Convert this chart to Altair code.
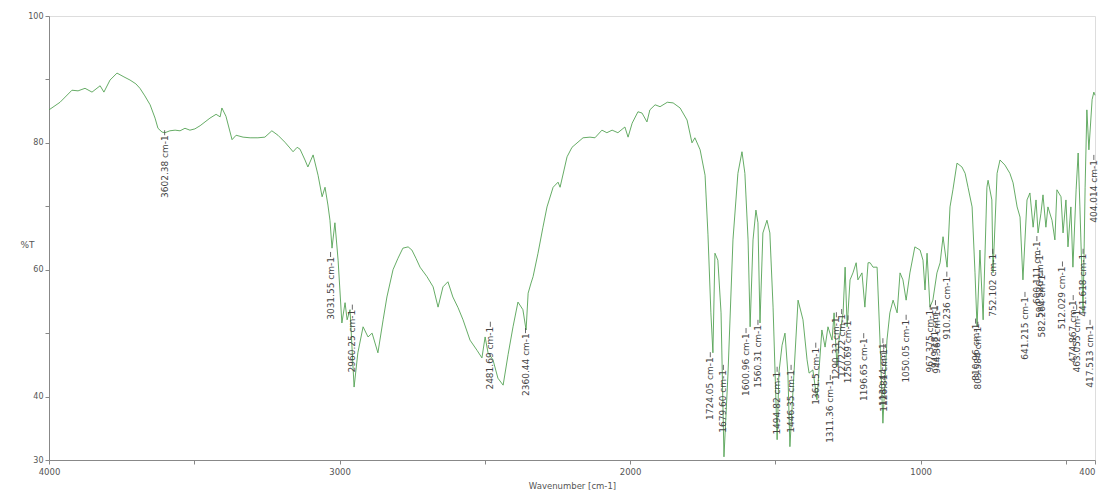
import altair as alt
import pandas as pd

# ---- spectrum (wavenumber cm-1, %T) ----
wavenumber = [4000, 3962, 3921, 3900, 3876, 3852, 3824, 3811, 3790, 3766, 3742, 3721, 3701, 3687, 3670, 3652,
              3635, 3625, 3611, 3601, 3584, 3566, 3549, 3532, 3515, 3498, 3480, 3463, 3446, 3425, 3411, 3405,
              3391, 3370, 3356, 3332, 3308, 3281, 3257, 3233, 3212, 3188, 3171, 3160, 3146, 3136, 3119, 3109,
              3091, 3074, 3060, 3050, 3040, 3033, 3026, 3016, 3005, 2992, 2981, 2974, 2964, 2950, 2937, 2919,
              2902, 2888, 2868, 2850, 2837, 2816, 2799, 2782, 2764, 2751, 2737, 2723, 2699, 2678, 2661, 2644,
              2627, 2610, 2592, 2575, 2551, 2527, 2510, 2499, 2489, 2472, 2455, 2437, 2420, 2403, 2386, 2369,
              2358, 2351, 2341, 2334, 2317, 2300, 2286, 2265, 2248, 2241, 2217, 2200, 2162, 2138, 2121, 2097,
              2080, 2062, 2042, 2018, 2007, 1993, 1973, 1959, 1942, 1932, 1914, 1897, 1872, 1852, 1828, 1804,
              1787, 1777, 1759, 1742, 1732, 1722, 1715, 1708, 1698, 1687, 1680, 1677, 1663, 1646, 1629, 1615,
              1605, 1594, 1587, 1577, 1567, 1560, 1553, 1543, 1529, 1519, 1508, 1494, 1488, 1477, 1467, 1457,
              1450, 1436, 1422, 1405, 1391, 1384, 1371, 1357, 1340, 1329, 1319, 1305, 1298, 1288, 1281, 1267,
              1260, 1253, 1243, 1233, 1222, 1216, 1202, 1192, 1181, 1174, 1164, 1150, 1140, 1130, 1116, 1106,
              1095, 1081, 1071, 1061, 1050, 1037, 1020, 1002, 992, 985, 978, 968, 958, 944, 933, 923,
              909, 899, 889, 875, 858, 847, 837, 823, 813, 806, 796, 785, 772, 768, 755, 751,
              737, 727, 710, 693, 682, 668, 658, 648, 634, 624, 613, 603, 596, 586, 579, 569,
              562, 548, 538, 531, 517, 510, 500, 493, 483, 476, 465, 458, 452, 441, 434, 428,
              421, 410, 404, 400]
transmittance = [85.2, 86.4, 88.3, 88.2, 88.6, 88.0, 89.0, 88.0, 89.9, 91.0, 90.4, 89.9, 89.3, 88.6, 87.4, 86.0,
                 83.9, 82.3, 81.7, 81.6, 81.9, 82.0, 81.9, 82.3, 82.0, 82.2, 82.7, 83.3, 83.9, 84.5, 84.1, 85.5,
                 84.2, 80.5, 81.2, 80.9, 80.8, 80.8, 80.9, 81.9, 81.2, 80.1, 79.2, 78.6, 79.3, 79.0, 77.3, 76.2,
                 78.1, 74.9, 71.5, 73.0, 70.2, 67.8, 63.4, 67.4, 61.5, 51.6, 54.8, 52.1, 53.7, 41.5, 46.9, 51.0,
                 49.4, 50.0, 46.9, 52.1, 55.7, 60.0, 61.8, 63.4, 63.6, 63.1, 61.8, 60.4, 58.9, 57.3, 54.1, 57.3,
                 58.1, 55.7, 54.0, 52.1, 48.9, 47.3, 46.1, 49.4, 46.9, 45.8, 42.9, 41.8, 46.6, 51.0, 54.9, 53.7,
                 50.5, 56.3, 57.9, 58.9, 62.6, 66.7, 69.9, 73.0, 73.8, 73.0, 77.8, 79.3, 80.8, 80.9, 80.8, 82.0,
                 81.6, 82.0, 81.6, 82.5, 80.9, 83.1, 84.9, 84.7, 83.3, 85.2, 86.0, 85.7, 86.4, 86.3, 85.5, 83.6,
                 80.0, 80.8, 78.9, 74.9, 65.5, 53.2, 46.9, 62.6, 61.5, 53.2, 37.4, 30.5, 43.7, 64.7, 75.2, 78.6,
                 75.2, 64.7, 51.0, 64.7, 69.4, 67.4, 51.6, 65.8, 67.8, 65.8, 54.1, 33.2, 43.7, 48.1, 50.0, 43.7,
                 32.1, 43.7, 55.2, 52.1, 45.8, 43.7, 44.2, 39.5, 50.5, 47.8, 51.0, 48.9, 53.2, 44.7, 48.9, 53.2,
                 60.4, 51.0, 58.4, 59.5, 61.1, 58.4, 59.5, 54.1, 61.1, 61.1, 60.4, 60.4, 48.9, 35.8, 48.9, 53.2,
                 55.2, 53.2, 59.5, 58.4, 55.2, 59.5, 63.6, 63.1, 61.5, 56.8, 62.6, 54.1, 55.2, 59.5, 61.1, 65.2,
                 60.4, 69.9, 72.6, 76.8, 76.2, 75.2, 73.0, 69.9, 59.5, 51.0, 63.1, 52.1, 73.0, 74.1, 71.0, 59.5,
                 75.2, 77.3, 76.5, 75.2, 73.7, 69.9, 68.3, 58.4, 71.0, 72.1, 66.7, 71.0, 65.8, 68.9, 71.8, 66.7,
                 69.9, 67.8, 64.7, 72.6, 71.5, 65.8, 71.0, 63.6, 69.9, 60.4, 72.6, 78.4, 69.9, 53.2, 73.0, 85.2,
                 78.9, 86.8, 88.0, 87.5]

# ---- peak annotations ----
peak_labels = ["3602.38 cm-1", "3031.55 cm-1", "2960.25 cm-1", "2481.69 cm-1", "2360.44 cm-1",
               "1724.05 cm-1", "1679.60 cm-1", "1600.96 cm-1", "1560.31 cm-1", "1494.82 cm-1",
               "1446.35 cm-1", "1361.5 cm-1", "1311.36 cm-1", "1290.33 cm-1", "1272.22 cm-1",
               "1250.69 cm-1", "1196.65 cm-1", "1130.44 cm-1", "1126.81 cm-1", "1050.05 cm-1",
               "967.375 cm-1", "949.181 cm-1", "944.362 cm-1", "910.236 cm-1", "810.96 cm-1",
               "803.584 cm-1", "752.102 cm-1", "641.215 cm-1", "600.111 cm-1", "590.526 cm-1",
               "582.264 cm-1", "512.029 cm-1", "474.867 cm-1", "463.055 cm-1", "441.618 cm-1",
               "417.513 cm-1", "404.014 cm-1"]
peak_wn = [3602, 3031, 2956, 2481, 2360,
           1724, 1679, 1601, 1560, 1494,
           1446, 1361, 1311, 1290, 1272,
           1250, 1196, 1130, 1127, 1050,
           967, 949, 944, 910, 811,
           803, 752, 641, 600, 590,
           582, 512, 475, 463, 441,
           417, 404]
peak_top = [81.2, 62.0, 53.7, 51.0, 50.0,
            46.2, 44.2, 50.0, 51.3, 43.9,
            44.2, 47.7, 42.6, 52.5, 53.0,
            52.0, 49.2, 48.4, 47.5, 52.1,
            53.7, 54.4, 53.5, 58.9, 51.5,
            51.0, 62.5, 55.7, 64.5, 62.3,
            59.2, 60.5, 55.2, 53.7, 62.5,
            51.3, 77.3]

spec = pd.DataFrame({"wn": wavenumber, "T": transmittance})
peaks = pd.DataFrame({"label": peak_labels, "wn": peak_wn, "top": peak_top})
peaks["top2"] = peaks["top"] + 0.8

FONT = "DejaVu Sans"
x_scale = alt.Scale(domain=[4000, 400], nice=False, zero=False)
y_scale = alt.Scale(domain=[30, 100], nice=False, zero=False)

x_axis = alt.Axis(
    title="Wavenumber [cm-1]",
    values=[4000, 3500, 3000, 2500, 2000, 1500, 1000, 500, 400],
    format="d",
    labelExpr="(datum.value % 1000 == 0 || datum.value == 400) ? datum.label : ''",
    labelAlign=alt.ConditionalAxisLabelAlign(
        condition={"test": "datum.value == 400", "value": "right"}, value="center"
    ),
    labelFlush=False, labelOverlap=False, grid=False,
    tickSize=4, tickColor="#888888", domainColor="#888888",
    labelFontSize=8.5, labelColor="#555555", labelPadding=3,
    titleFontSize=8.5, titleFontWeight="normal", titleColor="#555555", titlePadding=6,
)
y_axis = alt.Axis(
    title="%T",
    values=[30, 40, 50, 60, 70, 80, 90, 100],
    format="d",
    labelExpr="(datum.value == 30 || datum.value == 40 || datum.value == 60 || datum.value == 80 || datum.value == 100) ? datum.label : ''",
    labelFlush=False, labelOverlap=False, grid=False,
    tickSize=4, tickColor="#888888", domainColor="#888888",
    labelFontSize=8, labelColor="#555555", labelPadding=2,
    titleFontSize=9, titleFontWeight="normal", titleColor="#555555",
    titleAngle=0, titleX=-22, titleY=228, titleAlign="center", titleBaseline="middle",
)

line = alt.Chart(spec).mark_line(color="#55a355", strokeWidth=0.9).encode(
    x=alt.X("wn:Q", scale=x_scale, axis=x_axis),
    y=alt.Y("T:Q", scale=y_scale, axis=y_axis),
)

ticks = alt.Chart(peaks).mark_rule(color="#444444", strokeWidth=0.8).encode(
    x=alt.X("wn:Q", scale=x_scale),
    y=alt.Y("top:Q", scale=y_scale),
    y2="top2:Q",
)

texts = alt.Chart(peaks).mark_text(
    angle=270, align="right", baseline="middle", fontSize=9, font=FONT, color="#444444"
).encode(
    x=alt.X("wn:Q", scale=x_scale),
    y=alt.Y("top:Q", scale=y_scale),
    text="label:N",
)

chart = alt.layer(line, ticks, texts).properties(
    width=1046, height=444,
    padding={"left": 49, "top": 16, "right": 3, "bottom": 33},
    autosize=alt.AutoSizeParams(type="none"),
).configure_view(
    stroke="#888888", strokeWidth=1
).configure(
    font=FONT, background="white"
)

chart.save("out.html", embed_options={"renderer": "svg", "actions": False})
